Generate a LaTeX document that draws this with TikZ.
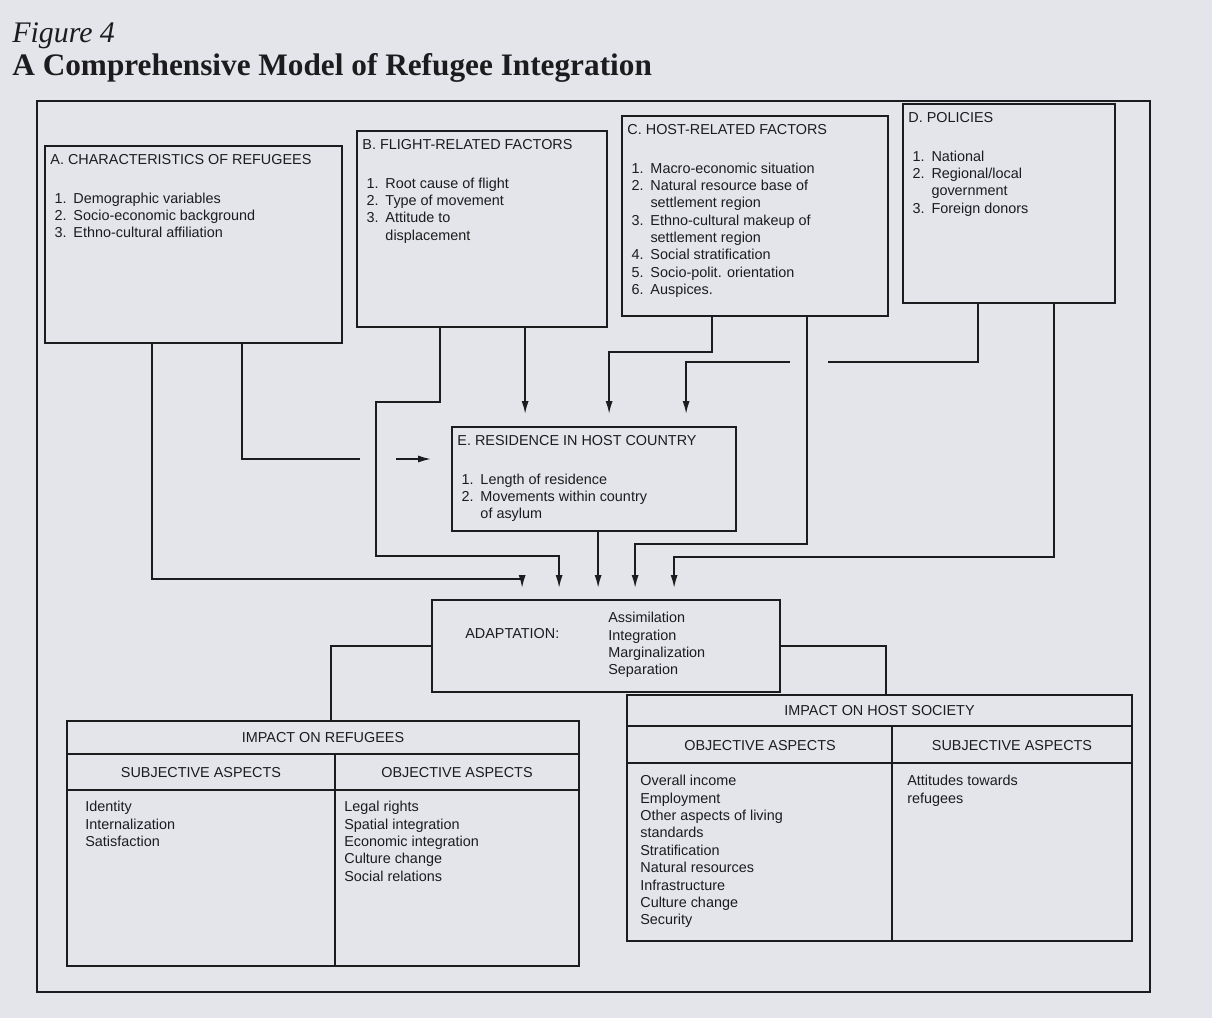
\documentclass[tikz,border=0pt]{standalone}
\usepackage{fontspec}
\setmainfont{Liberation Sans}
\newfontfamily\titlefont{Liberation Serif}
\usetikzlibrary{arrows.meta, fit, calc}
\definecolor{paper}{HTML}{E4E5EB}
\definecolor{ink}{HTML}{1C1C1E}
% numbered entries with a hanging indent
\newcommand{\itm}[1]{\hspace*{2.3pt}\makebox[10.8pt][l]{#1.}}
\newcommand{\cont}{\hspace*{13.1pt}}

\begin{document}
\begin{tikzpicture}[x=0.02cm, y=-0.02cm, font=\fontsize{8.2}{9.9}\selectfont, color=ink,
    box/.style={draw=ink, line width=1pt, inner sep=0pt},
    boxtext/.style={anchor=north west, inner sep=0pt, align=left},
    link/.style={draw=ink, line width=1pt},
    arr/.style={link, -{Latex[length=2.6mm, width=1.4mm]}, shorten >=0.22cm},
    label/.style={inner sep=0pt}]
\path[use as bounding box, fill=paper] (0,0) rectangle (1212,1018);

% heading
\node[anchor=base west, inner sep=0pt, font=\titlefont\itshape\fontsize{17}{20}\selectfont] (fig) at (12,42) {Figure 4};
\node[anchor=base west, inner sep=0pt, font=\titlefont\bfseries\fontsize{17.8}{20}\selectfont] (title) at (12,75) {A Comprehensive Model of Refugee Integration};
\node[box, fit={(37,101) (1150,992)}] (frame) {};

% factor boxes
\node[box, fit={(45,146) (342,343)}] (A) {};
\node[boxtext] (Atxt) at ([shift={(6,9)}]A.north west) {A. CHARACTERISTICS OF REFUGEES\\[12pt]
  \itm{1}Demographic variables\\
  \itm{2}Socio-economic background\\
  \itm{3}Ethno-cultural affiliation};

\node[box, fit={(357,131) (607,327)}] (B) {};
\node[boxtext] (Btxt) at ([shift={(6,9)}]B.north west) {B. FLIGHT-RELATED FACTORS\\[12pt]
  \itm{1}Root cause of flight\\
  \itm{2}Type of movement\\
  \itm{3}Attitude to\\
  \cont displacement};

\node[box, fit={(622,116) (888,316)}] (C) {};
\node[boxtext] (Ctxt) at ([shift={(6,9)}]C.north west) {C. HOST-RELATED FACTORS\\[12pt]
  \itm{1}Macro-economic situation\\
  \itm{2}Natural resource base of\\
  \cont settlement region\\
  \itm{3}Ethno-cultural makeup of\\
  \cont settlement region\\
  \itm{4}Social stratification\\
  \itm{5}Socio-polit. orientation\\
  \itm{6}Auspices.};

\node[box, fit={(903,104) (1115,303)}] (D) {};
\node[boxtext] (Dtxt) at ([shift={(6,9)}]D.north west) {D. POLICIES\\[12pt]
  \itm{1}National\\
  \itm{2}Regional/local\\
  \cont government\\
  \itm{3}Foreign donors};

\node[box, fit={(452,427) (736,531)}] (E) {};
\node[boxtext] (Etxt) at ([shift={(6,9)}]E.north west) {E. RESIDENCE IN HOST COUNTRY\\[12pt]
  \itm{1}Length of residence\\
  \itm{2}Movements within country\\
  \cont of asylum};

% adaptation
\node[box, fit={(432,600) (780,692)}] (ADAPT) {};
\node[label, anchor=west] (adlab) at (465,634) {ADAPTATION:};
\node[label, anchor=west, align=left] (adlist) at (608,645) {Assimilation\\ Integration\\ Marginalization\\ Separation};

% impacts
\node[box, fit={(67,721) (579,966)}] (IR) {};
\draw[link] ([shift={(0,34)}]IR.north west) -- ([shift={(0,34)}]IR.north east);
\draw[link] ([shift={(0,70)}]IR.north west) -- ([shift={(0,70)}]IR.north east);
\draw[link] ([shift={(269,34)}]IR.north west) -- ([shift={(269,0)}]IR.south west);
\node[label] (irhead) at ([shift={(0,17)}]IR.north) {IMPACT ON REFUGEES};
\node[label] (irsub) at (201,773) {SUBJECTIVE ASPECTS};
\node[label] (irobj) at (457,773) {OBJECTIVE ASPECTS};
\node[boxtext] (irsubl) at (85,801) {Identity\\ Internalization\\ Satisfaction};
\node[boxtext] (irobjl) at (344,801) {Legal rights\\ Spatial integration\\ Economic integration\\ Culture change\\ Social relations};

\node[box, fit={(627,695) (1132,941)}] (IH) {};
\draw[link] ([shift={(0,32)}]IH.north west) -- ([shift={(0,32)}]IH.north east);
\draw[link] ([shift={(0,69)}]IH.north west) -- ([shift={(0,69)}]IH.north east);
\draw[link] ([shift={(266,32)}]IH.north west) -- ([shift={(266,0)}]IH.south west);
\node[label] (ihhead) at ([shift={(0,16)}]IH.north) {IMPACT ON HOST SOCIETY};
\node[label] (ihobj) at (760,746) {OBJECTIVE ASPECTS};
\node[label] (ihsub) at (1012,746) {SUBJECTIVE ASPECTS};
\node[boxtext] (ihobjl) at (640,775) {Overall income\\ Employment\\ Other aspects of living\\ standards\\ Stratification\\ Natural resources\\ Infrastructure\\ Culture change\\ Security};
\node[boxtext] (ihsubl) at (907,775) {Attitudes towards\\ refugees};

% free ends where lines cross
\coordinate (gapAl) at (360,459);
\coordinate (gapAr) at (396,459);
\coordinate (gapDr) at (828,362);
\coordinate (gapDl) at (790,362);

% connectors
\draw[arr] ([shift={(108,0)}]A.south west) -- ++(0,235) -| ([shift={(91,0)}]ADAPT.north west);
\draw[link] ([shift={(198,0)}]A.south west) |- (gapAl);
\draw[arr, shorten >=0.4cm] (gapAr) -- (gapAr -| E.west);
\draw[arr] ([shift={(84,0)}]B.south west) -- ++(0,74) -| ++(-64,154) -| ([shift={(128,0)}]ADAPT.north west);
\draw[arr, shorten >=0.24cm] ([shift={(169,0)}]B.south west) -- ([shift={(74,0)}]E.north west);
\draw[arr, shorten >=0.24cm] ([shift={(91,0)}]C.south west) -- ++(0,35) -| ([shift={(158,0)}]E.north west);
\draw[arr] ([shift={(186,0)}]C.south west) -- ++(0,227) -| ([shift={(204,0)}]ADAPT.north west);
\draw[link] ([shift={(76,0)}]D.south west) |- (gapDr);
\draw[arr, shorten >=0.24cm] (gapDl) -| ([shift={(235,0)}]E.north west);
\draw[arr] ([shift={(152,0)}]D.south west) -- ++(0,253) -| ([shift={(243,0)}]ADAPT.north west);
\draw[arr] ([shift={(147,0)}]E.south west) -- ([shift={(167,0)}]ADAPT.north west);
\draw[link] (ADAPT.west) -| ([shift={(265,0)}]IR.north west);
\draw[link] (ADAPT.east) -| ([shift={(260,0)}]IH.north west);
\end{tikzpicture}
\end{document}
